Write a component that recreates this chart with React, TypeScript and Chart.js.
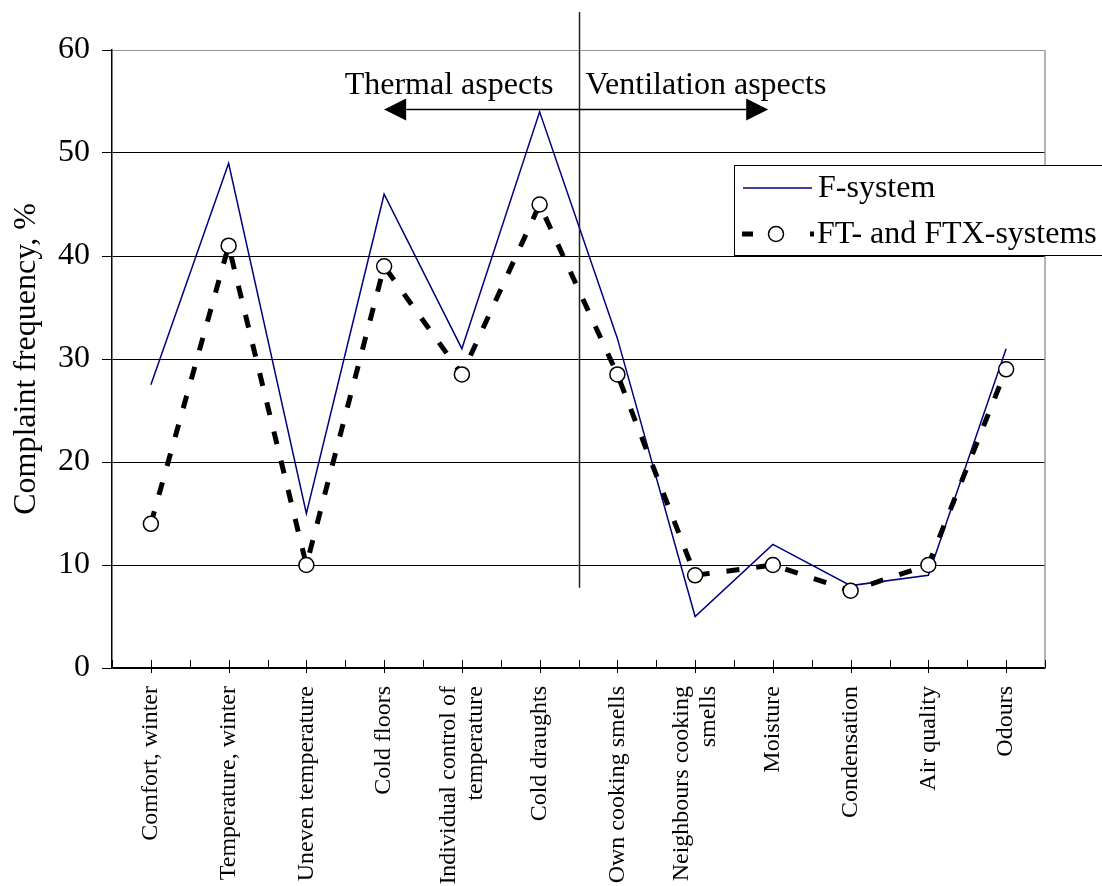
import React, { useEffect, useRef } from 'react';
import { Chart, registerables } from 'chart.js';

Chart.register(...registerables);

const categories: (string | string[])[] = [
  'Comfort, winter',
  'Temperature, winter',
  'Uneven temperature',
  'Cold floors',
  ['Individual control of', 'temperature'],
  'Cold draughts',
  'Own cooking smells',
  ['Neighbours cooking', 'smells'],
  'Moisture',
  'Condensation',
  'Air quality',
  'Odours',
];

const fSystem = [27.5, 49, 15, 46, 31, 54, 32, 5, 12, 8, 9, 31];
const ftSystems = [14, 41, 10, 39, 28.5, 45, 28.5, 9, 10, 7.5, 10, 29];
const yTicks = [0, 10, 20, 30, 40, 50, 60];

const seriesNames = ['F-system', 'FT- and FTX-systems'];
const yTitle = 'Complaint frequency, %';
const leftNote = 'Thermal aspects';
const rightNote = 'Ventilation aspects';

const FONT = '"Liberation Serif", "Times New Roman", serif';

export default function App() {
  const ref = useRef<HTMLCanvasElement>(null);

  useEffect(() => {
    const prevMargin = document.body.style.margin;
    document.body.style.margin = '0';

    const decor = {
      id: 'decor',
      beforeDatasetsDraw(chart: any) {
        const { ctx, chartArea: a } = chart;
        const xs = chart.scales.x;
        ctx.save();
        // right border (gray)
        ctx.strokeStyle = '#999';
        ctx.lineWidth = 1.5;
        ctx.beginPath();
        ctx.moveTo(a.right, a.top);
        ctx.lineTo(a.right, a.bottom);
        ctx.stroke();
        // x tick marks
        ctx.strokeStyle = '#000';
        ctx.lineWidth = 1;
        const n = categories.length;
        for (let i = 0; i <= n; i++) {
          const px = Math.round(xs.getPixelForValue(i - 0.5)) + 0.5;
          ctx.beginPath();
          ctx.moveTo(px, a.bottom - 8);
          ctx.lineTo(px, a.bottom);
          ctx.stroke();
        }
        for (let i = 0; i < n; i++) {
          const px = Math.round(xs.getPixelForValue(i)) + 0.5;
          ctx.beginPath();
          ctx.moveTo(px, a.bottom - 8);
          ctx.lineTo(px, a.bottom + 5);
          ctx.stroke();
        }
        ctx.restore();
      },
      afterDraw(chart: any) {
        const { ctx, chartArea: a } = chart;
        const xs = chart.scales.x;
        const ys = chart.scales.y;
        ctx.save();

        // category labels
        ctx.font = `24px ${FONT}`;
        ctx.fillStyle = '#000';
        ctx.textAlign = 'right';
        ctx.textBaseline = 'middle';
        categories.forEach((lab, i) => {
          const lines = Array.isArray(lab) ? lab : [lab];
          const cx = xs.getPixelForValue(i);
          lines.forEach((ln, j) => {
            const off = (j - (lines.length - 1) / 2) * 27;
            ctx.save();
            ctx.translate(cx + off, a.bottom + 18);
            ctx.rotate(-Math.PI / 2);
            ctx.fillText(ln, 0, 0);
            ctx.restore();
          });
        });

        // y axis title
        ctx.save();
        ctx.font = `32px ${FONT}`;
        ctx.textAlign = 'center';
        ctx.textBaseline = 'middle';
        ctx.translate(27, (a.top + a.bottom) / 2);
        ctx.rotate(-Math.PI / 2);
        ctx.fillText(yTitle, 0, 0);
        ctx.restore();

        // divider
        const dx = Math.round(xs.getPixelForValue(5.5)) + 0.5;
        ctx.strokeStyle = '#222';
        ctx.lineWidth = 1.5;
        ctx.beginPath();
        ctx.moveTo(dx, a.top - 38);
        ctx.lineTo(dx, ys.getPixelForValue(7.8));
        ctx.stroke();

        // arrow
        const ay = Math.round(ys.getPixelForValue(54.3)) + 0.5;
        const x1 = xs.getPixelForValue(3);
        const x2 = xs.getPixelForValue(7.94);
        const hl = 22;
        const hw = 11;
        ctx.strokeStyle = '#000';
        ctx.fillStyle = '#000';
        ctx.lineWidth = 1.5;
        ctx.beginPath();
        ctx.moveTo(x1 + hl, ay);
        ctx.lineTo(x2 - hl, ay);
        ctx.stroke();
        ctx.beginPath();
        ctx.moveTo(x1, ay);
        ctx.lineTo(x1 + hl, ay - hw);
        ctx.lineTo(x1 + hl, ay + hw);
        ctx.closePath();
        ctx.fill();
        ctx.beginPath();
        ctx.moveTo(x2, ay);
        ctx.lineTo(x2 - hl, ay - hw);
        ctx.lineTo(x2 - hl, ay + hw);
        ctx.closePath();
        ctx.fill();

        // notes
        ctx.font = `32px ${FONT}`;
        ctx.textBaseline = 'alphabetic';
        ctx.textAlign = 'right';
        ctx.fillText(leftNote, dx - 26, ay - 16);
        ctx.textAlign = 'left';
        ctx.fillText(rightNote, dx + 6, ay - 16);

        // legend
        const lx = 734.5;
        const ly = 165.5;
        ctx.fillStyle = '#fff';
        ctx.fillRect(lx, ly, 400, 90);
        ctx.strokeStyle = '#000';
        ctx.lineWidth = 1;
        ctx.strokeRect(lx, ly, 400, 90);

        const r1 = 188;
        const r2 = 234;
        ctx.strokeStyle = '#000080';
        ctx.lineWidth = 1.5;
        ctx.beginPath();
        ctx.moveTo(743, r1);
        ctx.lineTo(812, r1);
        ctx.stroke();

        ctx.strokeStyle = '#000';
        ctx.lineWidth = 5;
        ctx.beginPath();
        ctx.moveTo(742, r2);
        ctx.lineTo(753, r2);
        ctx.moveTo(810, r2);
        ctx.lineTo(814, r2);
        ctx.stroke();
        ctx.beginPath();
        ctx.arc(776, r2, 7.5, 0, Math.PI * 2);
        ctx.fillStyle = '#fff';
        ctx.fill();
        ctx.lineWidth = 1.5;
        ctx.stroke();

        ctx.fillStyle = '#000';
        ctx.font = `32px ${FONT}`;
        ctx.textAlign = 'left';
        ctx.textBaseline = 'middle';
        ctx.fillText(seriesNames[0], 818, r1 + 1);
        ctx.fillText(seriesNames[1], 817, r2 + 1);

        ctx.restore();
      },
    };

    const chart = new Chart(ref.current as HTMLCanvasElement, {
      type: 'line',
      data: {
        labels: categories as any,
        datasets: [
          {
            label: seriesNames[0],
            data: fSystem,
            borderColor: '#000080',
            borderWidth: 1.5,
            pointRadius: 0,
            tension: 0,
            fill: false,
            order: 1,
          },
          {
            label: seriesNames[1],
            data: ftSystems,
            borderColor: '#000',
            borderWidth: 5,
            borderDash: [13, 17],
            borderCapStyle: 'butt',
            pointRadius: 7.5,
            pointBackgroundColor: '#fff',
            pointBorderColor: '#000',
            pointBorderWidth: 1.5,
            tension: 0,
            fill: false,
            order: 0,
          },
        ],
      },
      options: {
        animation: false,
        responsive: false,
        layout: { padding: { top: 50, right: 57, left: 0, bottom: 0 } },
        plugins: {
          legend: { display: false },
          tooltip: { enabled: false },
        },
        scales: {
          x: {
            type: 'category',
            offset: true,
            grid: { display: false, drawTicks: false },
            border: { display: true, color: '#000', width: 1.5 },
            ticks: { display: false },
            afterFit: (s: any) => {
              s.height = 218;
            },
          },
          y: {
            min: 0,
            max: 60,
            afterBuildTicks: (s: any) => {
              s.ticks = yTicks.map((v) => ({ value: v }));
            },
            grid: {
              color: (c: any) => (c.tick && c.tick.value === 60 ? '#999' : '#000'),
              lineWidth: 1,
              drawTicks: true,
              tickLength: 10,
              tickColor: '#000',
            },
            border: { color: '#000', width: 1.5 },
            ticks: {
              color: '#000',
              font: { family: FONT, size: 32 },
              padding: 12,
            },
            afterFit: (s: any) => {
              s.width = 112;
            },
          },
        },
      },
      plugins: [decor],
    } as any);

    return () => {
      chart.destroy();
      document.body.style.margin = prevMargin;
    };
  }, []);

  return <canvas ref={ref} width={1102} height={886} style={{ display: 'block' }} />;
}
